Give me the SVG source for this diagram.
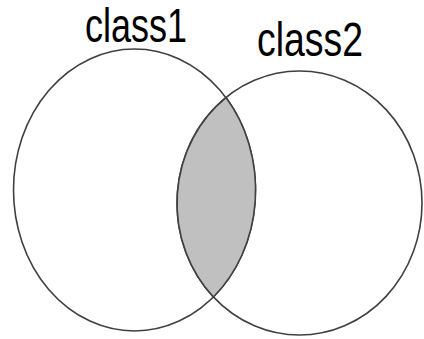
<svg xmlns="http://www.w3.org/2000/svg" width="424" height="339" viewBox="0 0 424 339">
  <style>
    .set { fill: none; stroke: #404040; stroke-width: 1.6; }
    .lens { fill: #c0c0c0; stroke: #404040; stroke-width: 1.6; }
    .lbl { font-family: "Liberation Sans", Arial, sans-serif; font-size: 48px; fill: #000; }
  </style>
  <rect width="424" height="339" fill="#fff"/>
  <g id="class1">
    <ellipse class="set" cx="134.5" cy="190" rx="121" ry="141"/>
    <text class="lbl" x="85" y="42" textLength="102" lengthAdjust="spacingAndGlyphs">class1</text>
  </g>
  <g id="class2">
    <ellipse class="set" cx="299.5" cy="203" rx="122.5" ry="132"/>
    <text class="lbl" x="257" y="55.5" textLength="106" lengthAdjust="spacingAndGlyphs">class2</text>
  </g>
  <g id="intersection">
    <path class="lens" d="M 226 97.6 A 121 141 0 0 1 213.4 297 A 122.5 132 0 0 1 226 97.6 Z"/>
  </g>
</svg>
